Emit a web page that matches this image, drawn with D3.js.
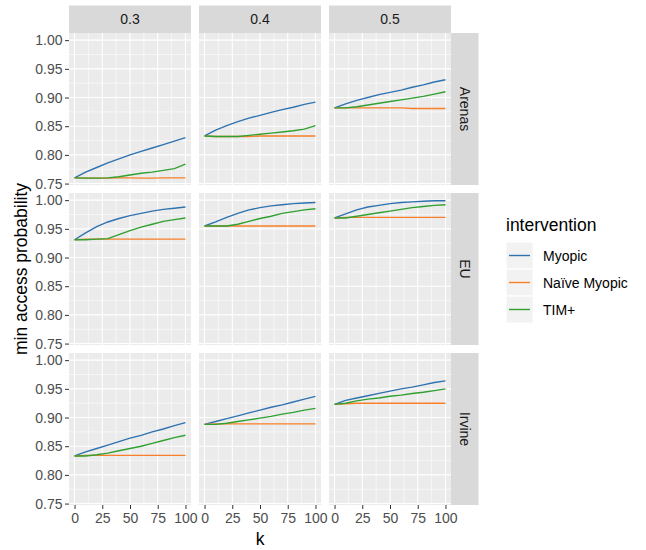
<!DOCTYPE html>
<html>
<head>
<meta charset="utf-8">
<script src="https://cdn.jsdelivr.net/npm/d3@7/dist/d3.min.js"></script>
<style>
  html, body { margin: 0; padding: 0; background: #ffffff; }
  svg { display: block; font-family: "Liberation Sans", Arial, Helvetica, sans-serif; }
</style>
</head>
<body>
<svg id="chart" width="646" height="550"></svg>
<script>
// ---------- data ----------
const kValues = [0, 10, 20, 30, 40, 50, 60, 70, 80, 90, 100];
const thresholds = ["0.3", "0.4", "0.5"];
const sites = ["Arenas", "EU", "Irvine"];
const interventions = ["Myopic", "Naïve Myopic", "TIM+"];
const xTicks = [0, 25, 50, 75, 100];
const yTicks = [0.75, 0.80, 0.85, 0.90, 0.95, 1.00];

// each array: one series per threshold (0.3, 0.4, 0.5), values at kValues
const arenasMyopic = [
  [0.760, 0.770, 0.778, 0.786, 0.793, 0.800, 0.806, 0.812, 0.818, 0.824, 0.830],
  [0.833, 0.843, 0.851, 0.858, 0.864, 0.869, 0.874, 0.879, 0.883, 0.888, 0.892],
  [0.882, 0.889, 0.895, 0.900, 0.905, 0.909, 0.913, 0.918, 0.922, 0.927, 0.931]
];
const arenasNaive = [
  [0.760, 0.7595, 0.7595, 0.7595, 0.760, 0.760, 0.7595, 0.7595, 0.760, 0.760, 0.760],
  [0.833, 0.832, 0.832, 0.832, 0.832, 0.833, 0.833, 0.833, 0.833, 0.833, 0.833],
  [0.882, 0.882, 0.882, 0.882, 0.882, 0.882, 0.882, 0.881, 0.881, 0.881, 0.881]
];
const arenasTIM = [
  [0.760, 0.7595, 0.7595, 0.760, 0.762, 0.765, 0.768, 0.770, 0.773, 0.776, 0.784],
  [0.833, 0.832, 0.832, 0.832, 0.834, 0.836, 0.838, 0.840, 0.842, 0.845, 0.851],
  [0.882, 0.882, 0.884, 0.887, 0.890, 0.893, 0.896, 0.899, 0.902, 0.906, 0.910]
];
const euMyopic = [
  [0.931, 0.943, 0.954, 0.962, 0.968, 0.973, 0.977, 0.981, 0.984, 0.986, 0.988],
  [0.955, 0.962, 0.970, 0.977, 0.983, 0.987, 0.990, 0.992, 0.994, 0.995, 0.996],
  [0.969, 0.976, 0.983, 0.988, 0.991, 0.994, 0.996, 0.997, 0.998, 0.999, 0.999]
];
const euNaive = [
  [0.931, 0.932, 0.932, 0.932, 0.932, 0.932, 0.932, 0.932, 0.932, 0.932, 0.932],
  [0.955, 0.955, 0.955, 0.955, 0.955, 0.955, 0.955, 0.955, 0.955, 0.955, 0.955],
  [0.969, 0.970, 0.970, 0.970, 0.970, 0.970, 0.970, 0.970, 0.970, 0.970, 0.970]
];
const euTIM = [
  [0.931, 0.931, 0.932, 0.933, 0.940, 0.947, 0.953, 0.958, 0.963, 0.966, 0.969],
  [0.955, 0.955, 0.955, 0.958, 0.963, 0.968, 0.972, 0.977, 0.980, 0.983, 0.985],
  [0.969, 0.969, 0.972, 0.975, 0.978, 0.981, 0.984, 0.987, 0.989, 0.991, 0.992]
];
const irvineMyopic = [
  [0.833, 0.840, 0.846, 0.852, 0.858, 0.864, 0.869, 0.875, 0.880, 0.886, 0.891],
  [0.888, 0.893, 0.898, 0.903, 0.908, 0.913, 0.918, 0.922, 0.927, 0.932, 0.937],
  [0.923, 0.930, 0.934, 0.938, 0.942, 0.946, 0.950, 0.953, 0.957, 0.961, 0.964]
];
const irvineNaive = [
  [0.833, 0.834, 0.834, 0.834, 0.834, 0.834, 0.834, 0.834, 0.834, 0.834, 0.834],
  [0.888, 0.889, 0.889, 0.889, 0.889, 0.889, 0.889, 0.889, 0.889, 0.889, 0.889],
  [0.923, 0.924, 0.925, 0.925, 0.925, 0.925, 0.925, 0.925, 0.925, 0.925, 0.925]
];
const irvineTIM = [
  [0.833, 0.833, 0.835, 0.838, 0.842, 0.846, 0.850, 0.855, 0.860, 0.865, 0.869],
  [0.888, 0.888, 0.890, 0.893, 0.896, 0.899, 0.902, 0.906, 0.909, 0.913, 0.916],
  [0.923, 0.925, 0.929, 0.932, 0.934, 0.937, 0.939, 0.942, 0.944, 0.947, 0.950]
];
const seriesBySite = {
  "Arenas": [arenasMyopic, arenasNaive, arenasTIM],
  "EU": [euMyopic, euNaive, euTIM],
  "Irvine": [irvineMyopic, irvineNaive, irvineTIM]
};
const colors = ["#2F72B0", "#F8802A", "#30A030"];

// ---------- layout ----------
const svg = d3.select("#chart");
const panelW = 122, panelH = 152, gap = 8;
const left0 = 69, top0 = 33;
const stripH = 27.5, stripW = 27.5;
const textSize = 14, titleSize = 17.5;

const x = d3.scaleLinear().domain([-5, 105]).range([0, panelW]);
const y = d3.scaleLinear().domain([0.7475, 1.0125]).range([panelH, 0]);
const xMinor = [12.5, 37.5, 62.5, 87.5];
const yMinor = [0.775, 0.825, 0.875, 0.925, 0.975];

const line = d3.line().x((d, i) => x(kValues[i])).y(d => y(d));

sites.forEach((site, r) => {
  thresholds.forEach((th, c) => {
    const px = left0 + c * (panelW + gap);
    const py = top0 + r * (panelH + gap);
    const g = svg.append("g").attr("transform", `translate(${px},${py})`);
    g.append("rect").attr("width", panelW).attr("height", panelH).attr("fill", "#EBEBEB");
    g.selectAll(".vmin").data(xMinor).enter().append("line")
      .attr("x1", d => x(d)).attr("x2", d => x(d)).attr("y1", 0).attr("y2", panelH)
      .attr("stroke", "#ffffff").attr("stroke-width", 0.55);
    g.selectAll(".hmin").data(yMinor).enter().append("line")
      .attr("y1", d => y(d)).attr("y2", d => y(d)).attr("x1", 0).attr("x2", panelW)
      .attr("stroke", "#ffffff").attr("stroke-width", 0.55);
    g.selectAll(".vmaj").data(xTicks).enter().append("line")
      .attr("x1", d => x(d)).attr("x2", d => x(d)).attr("y1", 0).attr("y2", panelH)
      .attr("stroke", "#ffffff").attr("stroke-width", 1.1);
    g.selectAll(".hmaj").data(yTicks).enter().append("line")
      .attr("y1", d => y(d)).attr("y2", d => y(d)).attr("x1", 0).attr("x2", panelW)
      .attr("stroke", "#ffffff").attr("stroke-width", 1.1);
    seriesBySite[site].forEach((arr, s) => {
      g.append("path").datum(arr[c]).attr("d", line)
        .attr("fill", "none").attr("stroke", colors[s]).attr("stroke-width", 1.4);
    });
    if (r === 0) {
      const sg = svg.append("g").attr("transform", `translate(${px},${top0 - stripH})`);
      sg.append("rect").attr("width", panelW).attr("height", stripH).attr("fill", "#D9D9D9");
      sg.append("text").attr("x", panelW / 2).attr("y", stripH / 2)
        .attr("text-anchor", "middle").attr("dominant-baseline", "central")
        .attr("font-size", textSize).attr("fill", "#1A1A1A").text(th);
    }
    if (c === thresholds.length - 1) {
      const sg = svg.append("g").attr("transform", `translate(${px + panelW},${py})`);
      sg.append("rect").attr("width", stripW).attr("height", panelH).attr("fill", "#D9D9D9");
      sg.append("text").attr("transform", `translate(${stripW / 2},${panelH / 2}) rotate(90)`)
        .attr("text-anchor", "middle").attr("dominant-baseline", "central")
        .attr("font-size", textSize).attr("fill", "#1A1A1A").text(site);
    }
    if (c === 0) {
      const ax = g.append("g").call(d3.axisLeft(y).tickValues(yTicks).tickFormat(d3.format(".2f")).tickSize(4).tickPadding(2.5));
      ax.select(".domain").remove();
      ax.selectAll("line").attr("stroke", "#333333").attr("stroke-width", 1);
      ax.selectAll("text").attr("font-size", textSize).attr("fill", "#4D4D4D").attr("font-family", "Liberation Sans, Arial, sans-serif");
    }
    if (r === sites.length - 1) {
      const ax = g.append("g").attr("transform", `translate(0,${panelH})`)
        .call(d3.axisBottom(x).tickValues(xTicks).tickSize(4).tickPadding(4));
      ax.select(".domain").remove();
      ax.selectAll("line").attr("stroke", "#333333").attr("stroke-width", 1);
      ax.selectAll("text").attr("font-size", textSize).attr("fill", "#4D4D4D").attr("font-family", "Liberation Sans, Arial, sans-serif");
    }
  });
});

const panelsRight = left0 + 3 * panelW + 2 * gap;
const panelsBottom = top0 + 3 * panelH + 2 * gap;
svg.append("text").attr("x", (left0 + panelsRight) / 2).attr("y", 545)
  .attr("text-anchor", "middle").attr("font-size", titleSize).attr("fill", "#000").text("k");
svg.append("text").attr("transform", `translate(27,${(top0 + panelsBottom) / 2}) rotate(-90)`)
  .attr("text-anchor", "middle").attr("font-size", titleSize).attr("fill", "#000").text("min access probability");

const lg = svg.append("g").attr("transform", "translate(506,0)");
lg.append("text").attr("x", 0).attr("y", 231).attr("font-size", titleSize).attr("fill", "#000").text("intervention");
const keyH = 27, keyTop = 242;
interventions.forEach((name, i) => {
  const ky = keyTop + i * keyH;
  lg.append("rect").attr("x", 0).attr("y", ky).attr("width", keyH).attr("height", keyH)
    .attr("fill", "#F2F2F2").attr("stroke", "#ffffff").attr("stroke-width", 1);
  lg.append("line").attr("x1", 3).attr("x2", keyH - 3).attr("y1", ky + keyH / 2).attr("y2", ky + keyH / 2)
    .attr("stroke", colors[i]).attr("stroke-width", 1.4);
  lg.append("text").attr("x", 37).attr("y", ky + keyH / 2).attr("dominant-baseline", "central")
    .attr("font-size", textSize).attr("fill", "#000").text(name);
});
</script>
</body>
</html>
